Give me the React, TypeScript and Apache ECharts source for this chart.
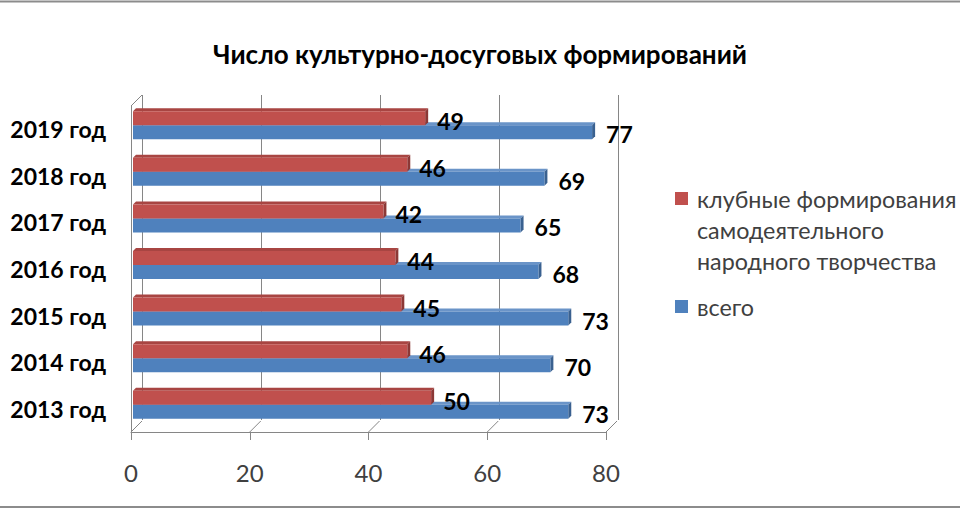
import React, { useEffect, useRef } from "react";
import * as echarts from "echarts";

const categories = ["2013 год", "2014 год", "2015 год", "2016 год", "2017 год", "2018 год", "2019 год"];
const clubValues = [50, 46, 45, 44, 42, 46, 49];
const totalValues = [73, 70, 73, 68, 65, 69, 77];
const xTicks = [0, 20, 40, 60, 80];
const clubName = "клубные формирования\nсамодеятельного\nнародного творчества";
const totalName = "всего";
const titleText = "Число культурно-досуговых формирований";

const FONT = "Lato, Carlito, 'Open Sans', sans-serif";
const GRAY = "#868686";
const BAR_W = 14;
const DEPTH = 3;
const WALL_DX = 11;
const WALL_DY = -11;
// legend icons: a 13x13 square, plus an invisible tiny point that sets the item box
const ICON_TALL = "path://M0,0h13v13h-13Z M17,75h0.01v0.01h-0.01Z";
const ICON_SHORT = "path://M0,0h13v13h-13Z M17,13h0.01v0.01h-0.01Z";

function makeCaps(values: number[], barOffset: number, topColor: string, sideColor: string, z: number) {
  return {
    type: "custom",
    xAxisIndex: 2,
    yAxisIndex: 2,
    silent: true,
    z,
    clip: false,
    data: values.map((v, i) => [v, i]),
    renderItem: (params: any, api: any) => {
      const v = api.value(0);
      const c = api.value(1);
      const p0 = api.coord([0, c]);
      const p1 = api.coord([v, c]);
      const y = p1[1] + barOffset;
      const h = BAR_W;
      const d = DEPTH;
      const x0 = p0[0];
      const x1 = p1[0];
      return {
        type: "group",
        children: [
          {
            type: "polygon",
            shape: { points: [[x0, y], [x0 + d, y - d], [x1 + d, y - d], [x1, y]] },
            style: { fill: topColor },
          },
          {
            type: "polygon",
            shape: { points: [[x1, y], [x1 + d, y - d], [x1 + d, y + h - d], [x1, y + h]] },
            style: { fill: sideColor },
          },
        ],
      };
    },
  };
}

export default function App() {
  const ref = useRef<HTMLDivElement>(null);
  useEffect(() => {
    if (!ref.current) return;
    const chart = echarts.init(ref.current, undefined, { renderer: "svg" });
    const valueAxisBase = { type: "value", min: 0, max: 80, interval: 20 };
    const legendText = { fontFamily: FONT, fontSize: 23.3, color: "#404040", lineHeight: 31 };
    const option: any = {
      animation: false,
      backgroundColor: "#ffffff",
      title: {
        text: titleText,
        left: "center",
        top: 41,
        padding: 0,
        textStyle: { fontFamily: FONT, fontSize: 26, fontWeight: "bold", color: "#000" },
      },
      legend: [
        {
          data: [{ name: clubName, icon: ICON_TALL }],
          orient: "vertical",
          left: 675,
          top: 183,
          padding: 0,
          itemWidth: 17,
          itemHeight: 75,
          selectedMode: false,
          textStyle: legendText,
        },
        {
          data: [{ name: totalName, icon: ICON_SHORT }],
          orient: "vertical",
          left: 675,
          top: 291,
          padding: 0,
          itemWidth: 17,
          itemHeight: 13,
          selectedMode: false,
          textStyle: legendText,
        },
      ],
      grid: [
        { left: 131, top: 106, width: 475, height: 326 },
        { left: 142, top: 95, width: 476, height: 325 },
        { left: 133, top: 102, width: 477, height: 326 },
      ],
      xAxis: [
        {
          ...valueAxisBase,
          gridIndex: 0,
          axisLine: { show: true, lineStyle: { color: GRAY, width: 1 } },
          axisTick: { show: true, length: 8, lineStyle: { color: GRAY } },
          splitLine: { show: false },
          axisLabel: { fontFamily: FONT, fontSize: 24, color: "#404040", margin: 28 },
        },
        {
          ...valueAxisBase,
          gridIndex: 1,
          axisLine: { show: false },
          axisTick: { show: false },
          axisLabel: { show: false },
          splitLine: { show: true, lineStyle: { color: GRAY, width: 1 } },
        },
        { ...valueAxisBase, gridIndex: 2, show: false, splitLine: { show: false } },
      ],
      yAxis: [
        {
          type: "category",
          gridIndex: 0,
          data: categories,
          axisLine: { show: true, lineStyle: { color: GRAY, width: 1 } },
          axisTick: { show: false },
          axisLabel: { fontFamily: FONT, fontSize: 23, fontWeight: "bold", color: "#000", margin: 25 },
        },
        { type: "category", gridIndex: 1, data: categories, show: false },
        { type: "category", gridIndex: 2, data: categories, show: false },
      ],
      graphic: [
        { type: "line", shape: { x1: 0, y1: 1.5, x2: 960, y2: 1.5 }, style: { stroke: "#8c8c8c", lineWidth: 2 } },
        { type: "line", shape: { x1: 0, y1: 507, x2: 960, y2: 507 }, style: { stroke: "#8c8c8c", lineWidth: 2 } },
      ],
      series: [
        {
          type: "custom",
          xAxisIndex: 0,
          yAxisIndex: 0,
          silent: true,
          clip: false,
          z: 1,
          data: xTicks.map((t) => [t, 0]),
          renderItem: (params: any, api: any) => {
            const t = api.value(0);
            const cs = params.coordSys;
            const p = api.coord([t, 0]);
            const bottom = cs.y + cs.height;
            const children: any[] = [
              {
                type: "line",
                shape: { x1: p[0], y1: bottom, x2: p[0] + WALL_DX, y2: bottom + WALL_DY },
                style: { stroke: GRAY, lineWidth: 1 },
              },
            ];
            if (params.dataIndex === 0) {
              children.push({
                type: "line",
                shape: { x1: cs.x, y1: cs.y, x2: cs.x + WALL_DX, y2: cs.y + WALL_DY },
                style: { stroke: GRAY, lineWidth: 1 },
              });
            }
            return { type: "group", children };
          },
        },
        {
          name: clubName,
          type: "bar",
          xAxisIndex: 2,
          yAxisIndex: 2,
          data: clubValues,
          barWidth: BAR_W,
          barGap: "0%",
          z: 5,
          itemStyle: { color: "#C0504D" },
          label: {
            show: true,
            position: "right",
            distance: 12,
            offset: [0, 3],
            fontFamily: FONT,
            fontSize: 23,
            fontWeight: "bold",
            color: "#000",
          },
        },
        makeCaps(totalValues, 0, "#6a94c8", "#3a6190", 2),
        {
          name: totalName,
          type: "bar",
          xAxisIndex: 2,
          yAxisIndex: 2,
          data: totalValues,
          barWidth: BAR_W,
          barGap: "0%",
          z: 3,
          itemStyle: { color: "#4F81BD" },
          label: {
            show: true,
            position: "right",
            distance: 14,
            offset: [0, 2],
            fontFamily: FONT,
            fontSize: 23,
            fontWeight: "bold",
            color: "#000",
          },
        },
        makeCaps(clubValues, -BAR_W, "#a84542", "#8c3836", 4),
      ],
    };
    chart.setOption(option);
    return () => chart.dispose();
  }, []);
  return (
    <div
      ref={ref}
      style={{ position: "fixed", left: 0, top: 0, width: 960, height: 510, background: "#fff" }}
    />
  );
}
